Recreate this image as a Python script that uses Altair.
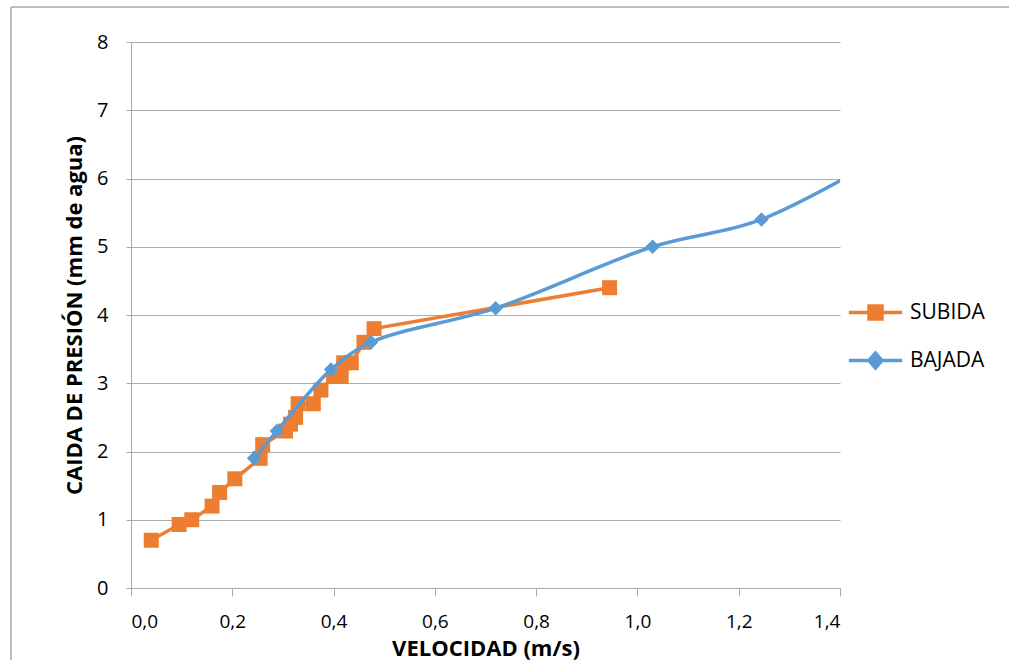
import altair as alt
import pandas as pd

# SUBIDA (orange, squares)
subida_v = [0.04, 0.095, 0.12, 0.16, 0.175, 0.205, 0.255, 0.26, 0.305, 0.315, 0.325,
            0.33, 0.36, 0.375, 0.40, 0.415, 0.42, 0.435, 0.46, 0.48, 0.945]
subida_p = [0.7, 0.93, 1.0, 1.2, 1.4, 1.6, 1.9, 2.1, 2.3, 2.4, 2.5,
            2.7, 2.7, 2.9, 3.1, 3.1, 3.3, 3.3, 3.6, 3.8, 4.4]

# BAJADA (blue, diamonds, smoothed)
bajada_v = [0.243, 0.288, 0.395, 0.474, 0.72, 1.03, 1.245, 1.55]
bajada_p = [1.9, 2.3, 3.2, 3.6, 4.1, 5.0, 5.4, 6.6]

x_ticks = [0, 0.2, 0.4, 0.6, 0.8, 1.0, 1.2, 1.4]
y_ticks = [0, 1, 2, 3, 4, 5, 6, 7, 8]

ORANGE = "#ED7D31"
BLUE = "#5B9BD5"
FONT = "Open Sans"

df_s = pd.DataFrame({"v": subida_v, "p": subida_p, "serie": "SUBIDA"})
df_b = pd.DataFrame({"v": bajada_v, "p": bajada_p, "serie": "BAJADA"})

x_enc = alt.X(
    "v:Q",
    scale=alt.Scale(domain=[0, 1.4], nice=False, zero=False),
    axis=alt.Axis(
        values=x_ticks,
        labelExpr="replace(format(datum.value, '.1f'), '.', ',')",
        title="VELOCIDAD (m/s)",
        grid=False,
        domain=True,
        domainColor="#ABABAB",
        ticks=True,
        tickColor="#ABABAB",
        tickSize=8,
        labelFont=FONT,
        labelFontSize=19,
        labelColor="#000000",
        labelPadding=16,
        titleFont=FONT,
        titleFontSize=22,
        titleFontWeight="bold",
        titleColor="#000000",
        titleBaseline="alphabetic",
        titleY=67,
    ),
)
y_enc = alt.Y(
    "p:Q",
    scale=alt.Scale(domain=[0, 8], nice=False),
    axis=alt.Axis(
        values=y_ticks,
        title="CAIDA DE PRESIÓN (mm de agua)",
        grid=True,
        gridColor="#ABABAB",
        gridWidth=1,
        domain=True,
        domainColor="#ABABAB",
        ticks=True,
        tickColor="#ABABAB",
        tickSize=5,
        labelFont=FONT,
        labelFontSize=20,
        labelColor="#000000",
        labelPadding=18,
        titleFont=FONT,
        titleFontSize=22,
        titleFontWeight="bold",
        titleColor="#000000",
        titleBaseline="middle",
        titleX=-57,
    ),
)

sq_path = "M-4.1,0H4.1M-1,-1H1V1H-1Z"
dm_path = "M-4.1,0H4.1M0,-1.15L1,0L0,1.15L-1,0Z"


def leg(path, color, ly):
    return alt.Legend(
        title=None,
        orient="none",
        legendX=734,
        legendY=ly,
        symbolType=path,
        symbolSize=169,
        symbolStrokeWidth=3.5,
        symbolStrokeColor=color,
        symbolFillColor=color,
        labelFont=FONT,
        labelFontSize=21,
        labelColor="#000000",
        labelOffset=24,
        padding=0,
    )


s_line = alt.Chart(df_s).mark_line(strokeWidth=3.5).encode(
    x=x_enc, y=y_enc,
    color=alt.Color("serie:N", scale=alt.Scale(domain=["SUBIDA"], range=[ORANGE]),
                    legend=leg(sq_path, ORANGE, 260)),
)
s_pts = alt.Chart(df_s).mark_point(shape="square", size=225, filled=True, opacity=1,
                                    color=ORANGE).encode(x=x_enc, y=y_enc)

b_line = alt.Chart(df_b).mark_line(strokeWidth=3.5, interpolate="catmull-rom", clip=True).encode(
    x=x_enc, y=y_enc,
    color=alt.Color("serie:N", scale=alt.Scale(domain=["BAJADA"], range=[BLUE]),
                    legend=leg(dm_path, BLUE, 308)),
)
b_pts = alt.Chart(df_b).mark_point(shape="diamond", size=210, filled=True, opacity=1,
                                    color=BLUE, clip=True).encode(x=x_enc, y=y_enc)

# outer chart-area border (left and top edges visible in the reference)
border_src = pd.DataFrame({"d": [0]})
frame_left = alt.Chart(border_src).mark_rule(color="#A6A6A6", strokeWidth=1.5, clip=False).encode(
    x=alt.value(-120), y=alt.value(-35), y2=alt.value(900)
)
frame_top = alt.Chart(border_src).mark_rule(color="#A6A6A6", strokeWidth=1.5, clip=False).encode(
    x=alt.value(-120), x2=alt.value(1200), y=alt.value(-35)
)

chart = alt.layer(frame_left, frame_top, s_line, s_pts, b_line, b_pts).resolve_scale(
    color="independent"
).properties(
    width=709, height=546,
    autosize=alt.AutoSizeParams(type="none"),
    padding={"left": 131, "top": 42, "right": 169, "bottom": 72},
    background="white",
).configure_view(stroke=None)

chart.save("out.html", embed_options={"renderer": "svg", "actions": False})
